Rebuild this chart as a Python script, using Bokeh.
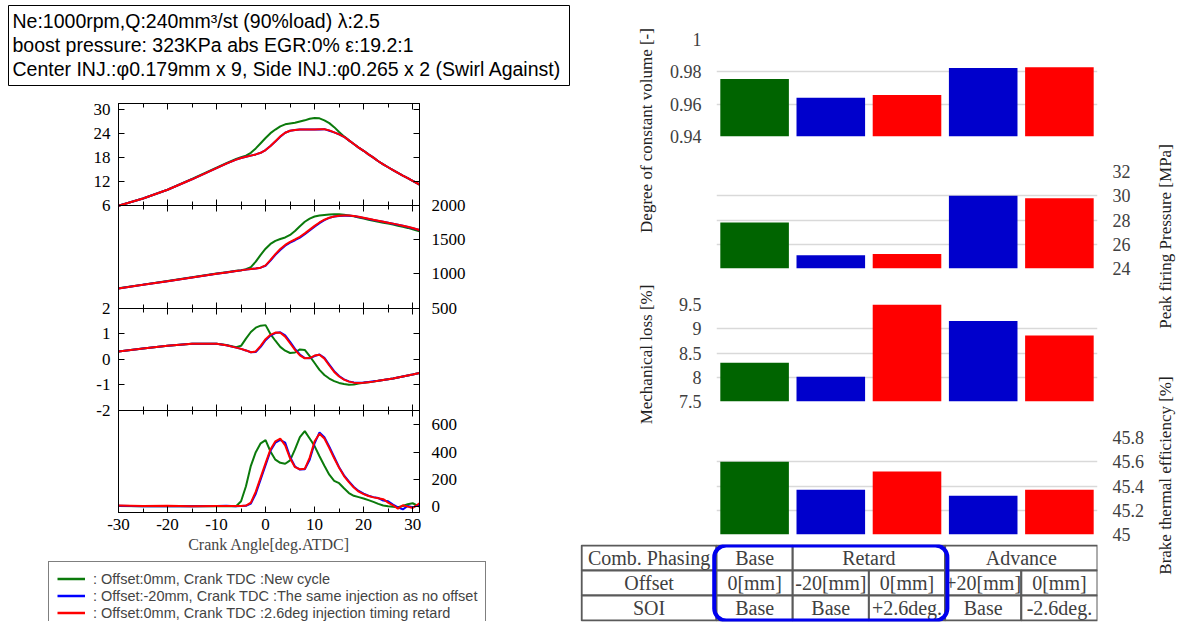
import math
from bokeh.plotting import figure
from bokeh.layouts import column, row
from bokeh.models import (Range1d, LinearAxis, FixedTicker, SingleIntervalTicker,
                          Label, Legend, LegendItem, BoxAnnotation, Grid)
from bokeh.embed import file_html
from bokeh.resources import INLINE
from bokeh.core.properties import value

# ====================== DATA ======================
header_lines = [
    "Ne:1000rpm,Q:240mm\u00b3/st (90%load) \u03bb:2.5",
    "boost pressure: 323KPa abs EGR:0% \u03b5:19.2:1",
    "Center INJ.:\u03c60.179mm x 9, Side INJ.:\u03c60.265 x 2 (Swirl Against)",
]
legend_labels = [
    ": Offset:0mm, Crank TDC :New cycle",
    ": Offset:-20mm, Crank TDC :The same injection as no offset",
    ": Offset:0mm, Crank TDC :2.6deg injection timing retard",
]

crank_angle = [-30, -25, -20, -15, -10, -8, -6, -5, -4, -3, -2, -1,
               0, 1, 2, 3, 4, 5, 6, 7, 8, 9, 10, 11, 12, 13, 14, 15, 16, 17, 18, 19, 20,
               21, 22, 23, 24, 25, 26, 27, 28, 29, 30, 31.4]

press_green = [6.0, 7.8, 10.0, 12.7, 15.5, 16.6, 17.7, 18.1, 18.5, 19.2, 20.3, 21.6,
               22.9, 24.1, 25.0, 25.8, 26.3, 26.5, 26.7, 27.0, 27.3, 27.7, 27.9, 27.8, 27.3,
               26.6, 25.6, 24.4, 23.3, 22.3, 21.4, 20.5, 19.7, 18.8, 18.0, 17.1, 16.3, 15.6,
               14.9, 14.2, 13.5, 12.9, 12.2, 11.3]
press_blue = [6.0, 7.8, 10.0, 12.6, 15.4, 16.5, 17.5, 17.9, 18.2, 18.5, 18.8, 19.2,
              19.9, 20.9, 22.0, 23.2, 24.2, 24.7, 24.9, 25.0, 25.0, 25.0, 25.0, 25.0, 25.1,
              24.7, 24.3, 23.8, 23.2, 22.3, 21.4, 20.5, 19.7, 18.8, 18.0, 17.1, 16.3, 15.6,
              14.9, 14.2, 13.5, 12.9, 12.2, 11.3]
press_red = [6.0, 7.8, 10.0, 12.6, 15.4, 16.5, 17.5, 17.9, 18.2, 18.5, 18.8, 19.2,
             19.9, 20.9, 22.1, 23.3, 24.2, 24.7, 24.9, 25.0, 25.0, 25.0, 25.0, 25.1, 25.1,
             24.8, 24.3, 23.8, 23.2, 22.3, 21.4, 20.5, 19.7, 18.8, 18.0, 17.1, 16.3, 15.6,
             14.9, 14.2, 13.5, 12.9, 12.2, 11.3]

temp_green = [790, 843, 897, 950, 1005, 1025, 1045, 1055, 1068, 1100, 1180, 1280,
              1370, 1440, 1485, 1512, 1535, 1572, 1630, 1700, 1765, 1812, 1842, 1858, 1866,
              1872, 1875, 1874, 1868, 1858, 1845, 1828, 1812, 1796, 1781, 1766, 1752, 1738,
              1723, 1708, 1692, 1675, 1655, 1625]
temp_blue = [785, 840, 894, 948, 1002, 1022, 1042, 1052, 1063, 1072, 1080, 1092,
             1120, 1195, 1280, 1352, 1413, 1458, 1494, 1533, 1583, 1638, 1693, 1745, 1790,
             1822, 1841, 1850, 1853, 1853, 1848, 1836, 1822, 1807, 1792, 1778, 1764, 1750,
             1736, 1721, 1706, 1689, 1671, 1643]
temp_red = [785, 840, 894, 948, 1002, 1022, 1042, 1052, 1063, 1072, 1080, 1092,
            1125, 1205, 1290, 1365, 1425, 1470, 1505, 1545, 1595, 1650, 1705, 1755, 1795,
            1825, 1843, 1852, 1856, 1856, 1850, 1838, 1824, 1809, 1794, 1780, 1766, 1752,
            1738, 1723, 1708, 1691, 1673, 1645]

dpdth_green = [0.30, 0.42, 0.52, 0.60, 0.60, 0.55, 0.47, 0.52, 0.80, 1.06, 1.23, 1.31,
               1.33, 0.98, 0.72, 0.48, 0.33, 0.24, 0.26, 0.38, 0.36, 0.12, -0.15, -0.42, -0.62,
               -0.76, -0.86, -0.93, -0.97, -1.00, -0.99, -0.95, -0.92, -0.90, -0.88, -0.85,
               -0.82, -0.79, -0.76, -0.72, -0.68, -0.64, -0.60, -0.54]
dpdth_blue = [0.30, 0.42, 0.52, 0.60, 0.60, 0.54, 0.45, 0.40, 0.34, 0.27, 0.28, 0.48,
              0.74, 0.92, 1.02, 1.05, 0.93, 0.68, 0.40, 0.18, 0.04, 0.03, 0.12, 0.18, 0.05,
              -0.21, -0.47, -0.66, -0.79, -0.87, -0.91, -0.92, -0.91, -0.89, -0.87, -0.85,
              -0.82, -0.79, -0.76, -0.72, -0.68, -0.64, -0.60, -0.54]
dpdth_red = [0.30, 0.42, 0.52, 0.60, 0.60, 0.54, 0.45, 0.40, 0.34, 0.27, 0.30, 0.52,
             0.78, 0.95, 1.04, 1.03, 0.88, 0.62, 0.36, 0.15, 0.03, 0.04, 0.14, 0.17, 0.02,
             -0.25, -0.50, -0.68, -0.80, -0.88, -0.92, -0.93, -0.92, -0.90, -0.88, -0.85,
             -0.82, -0.79, -0.76, -0.72, -0.68, -0.64, -0.60, -0.54]

ahrr_green = [5, 3, 5, 2, 3, 4, 3, 40, 150, 300, 400, 465,
              488, 405, 345, 322, 315, 340, 420, 510, 555, 500, 445, 370, 300,
              235, 190, 172, 135, 100, 80, 70, 60, 48, 35, 20, 8, 3, 0, -5, 5, 18, 25, 0]
ahrr_blue = [6, 3, 5, 2, 4, 6, 3, 4, 6, 22, 95, 200,
             305, 410, 470, 490, 470, 365, 295, 272, 275, 345, 465, 545, 510,
             440, 365, 290, 230, 185, 145, 115, 95, 80, 70, 63, 45, 40, 15, -5, -20, 5, -5, 15]
ahrr_red = [8, 4, 6, 3, 5, 4, 4, 5, 8, 30, 110, 215,
            320, 420, 480, 500, 450, 355, 290, 275, 278, 360, 480, 535, 500,
            430, 355, 285, 225, 180, 140, 110, 92, 78, 68, 62, 55, 30, 10, -15, 10, 0, -10, 25]

press_ticks = [6, 12, 18, 24, 30]
temp_ticks = [500, 1000, 1500, 2000]
dpdth_ticks = [-2, -1, 0, 1, 2]
ahrr_ticks = [0, 200, 400, 600]
angle_tick_labels = {-30: "-30", -20: "-20", -10: "-10", 0: "0", 10: "10", 20: "20", 30: "30"}

case_names = ["Base 0mm", "Retard -20mm", "Retard +2.6deg", "Advance +20mm", "Advance -2.6deg"]
dcv = [0.9755, 0.9639, 0.9656, 0.9823, 0.9829]
pfp = [27.8, 25.1, 25.2, 30.0, 29.8]
mech_loss = [8.30, 8.01, 9.51, 9.16, 8.86]
bte = [45.60, 45.37, 45.52, 45.32, 45.37]

dcv_ticks = [0.94, 0.96, 0.98, 1.0]
dcv_tick_labels = ["0.94", "0.96", "0.98", "1"]
pfp_ticks = [24, 26, 28, 30, 32]
pfp_tick_labels = ["24", "26", "28", "30", "32"]
mech_ticks = [7.5, 8.0, 8.5, 9.0, 9.5]
mech_tick_labels = ["7.5", "8", "8.5", "9", "9.5"]
bte_ticks = [45.0, 45.2, 45.4, 45.6, 45.8]
bte_tick_labels = ["45", "45.2", "45.4", "45.6", "45.8"]

table_row_headers = ["Comb. Phasing", "Offset", "SOI"]
phasing_groups = ["Base", "Retard", "Advance"]
phasing_group_sizes = [1, 2, 2]
offset_labels = ["0[mm]", "-20[mm]", "0[mm]", "+20[mm]", "0[mm]"]
soi_labels = ["Base", "Base", "+2.6deg.", "Base", "-2.6deg."]
highlighted_groups = ["Base", "Retard"]

# ====================== STYLE ======================
SERIF = "Liberation Serif"
SANS = "Liberation Sans"
LINE_COLORS = ["#0b7a0b", "#0000ff", "#ff0000"]
BAR_COLORS = ["#006400", "#0000cc", "#ff0000", "#0000cc", "#ff0000"]
GRAY_TXT = "#404040"


def base_fig(fw, fh, xr, yr, l, r, t, b):
    f = figure(frame_width=fw, frame_height=fh, x_range=xr, y_range=yr,
               min_border_left=l, min_border_right=r, min_border_top=t, min_border_bottom=b,
               x_axis_type=None, y_axis_type=None, output_backend="svg",
               toolbar_location=None)
    f.outline_line_color = None
    f.border_fill_color = "white"
    f.background_fill_color = "white"
    return f


# ---------- header text box ----------
tfig = base_fig(561, 80, Range1d(0, 561), Range1d(80, 0), 8, 6, 5, 3)
tfig.outline_line_color = "black"
tfig.outline_line_width = 1
for i, line in enumerate(header_lines):
    tfig.add_layout(Label(x=4, y=15 + 24 * i, text=line, text_font=SANS,
                          text_font_size="19.5px", text_baseline="middle", text_color="black"))

# ---------- stacked line panels ----------
X0, X1 = -30.0, 31.4
LFW, LFH = 301, 409
FRAME_L = 118
PPU = LFW / (X1 - X0)
lfig = base_fig(LFW, LFH, Range1d(X0, X1), Range1d(0, 4), FRAME_L, 156, 15, 45)
lfig.outline_line_color = "black"

panels = {"press": (6.0, 31.5, 3), "temp": (500.0, 2000.0, 2),
          "dpdth": (-2.0, 2.0, 1), "ahrr": (-43.0, 708.0, 0)}
extra = {}
for name, (lo, hi, k) in panels.items():
    span = hi - lo
    extra[name] = Range1d(lo - k * span, hi + (3 - k) * span)
lfig.extra_y_ranges = extra


def pos(v, name):
    lo, hi, k = panels[name]
    return round(k + (v - lo) / (hi - lo), 6)


series = [
    ("press", [press_green, press_blue, press_red]),
    ("temp", [temp_green, temp_blue, temp_red]),
    ("dpdth", [dpdth_green, dpdth_blue, dpdth_red]),
    ("ahrr", [ahrr_green, ahrr_blue, ahrr_red]),
]
for name, ys in series:
    for y, c in zip(ys, LINE_COLORS):
        lfig.line(crank_angle, y, y_range_name=name, line_color=c, line_width=2)


def style_ticks(ax, size, color="black"):
    ax.major_label_text_font = SERIF
    ax.major_label_text_font_size = size
    ax.major_label_text_color = color


# left axis (pressure + dp/dtheta labels)
lticks, llabels = [], {}
for v in press_ticks:
    p = pos(v, "press"); lticks.append(p); llabels[p] = str(v)
for v in dpdth_ticks:
    p = pos(v, "dpdth"); lticks.append(p); llabels[p] = str(v)
yl = LinearAxis(ticker=FixedTicker(ticks=lticks), major_label_overrides=llabels,
                major_tick_in=6, major_tick_out=0, minor_tick_in=0, minor_tick_out=0,
                major_label_standoff=8)
style_ticks(yl, "17px")
lfig.add_layout(yl, "left")

# right axis (temperature + AHRR labels)
rticks, rlabels = [], {}
for v in temp_ticks:
    p = pos(v, "temp"); rticks.append(p); rlabels[p] = str(v)
for v in ahrr_ticks:
    p = pos(v, "ahrr"); rticks.append(p); rlabels[p] = str(v)
yr = LinearAxis(ticker=FixedTicker(ticks=rticks), major_label_overrides=rlabels,
                major_tick_in=6, major_tick_out=0, minor_tick_in=0, minor_tick_out=0,
                major_label_standoff=12)
style_ticks(yr, "17px")
lfig.add_layout(yr, "right")

# mirrored (unlabelled) ticks on the right edge for pressure and dp/dtheta
mticks = [pos(v, "press") for v in press_ticks[1:]] + [pos(v, "dpdth") for v in dpdth_ticks[1:-1]]
ym = LinearAxis(ticker=FixedTicker(ticks=mticks), fixed_location=X1, major_tick_in=6,
                major_tick_out=0, minor_tick_in=0, minor_tick_out=0,
                major_label_text_color=None, major_label_standoff=0)
lfig.add_layout(ym, "right")

xb = LinearAxis(ticker=SingleIntervalTicker(interval=10, num_minor_ticks=2),
                major_label_overrides=angle_tick_labels,
                major_tick_in=6, major_tick_out=0, minor_tick_in=4, minor_tick_out=0,
                major_label_standoff=6,
                axis_label="Crank Angle[deg.ATDC]", axis_label_text_font=SERIF,
                axis_label_text_font_size="16px", axis_label_text_font_style="normal",
                axis_label_standoff=3)
style_ticks(xb, "17px")
lfig.add_layout(xb, "below")
xt = LinearAxis(ticker=SingleIntervalTicker(interval=10, num_minor_ticks=2),
                major_tick_in=6, major_tick_out=0, minor_tick_in=4, minor_tick_out=0,
                major_label_standoff=0, major_label_text_color=None)
lfig.add_layout(xt, "above")
for k in (1, 2, 3):
    xi = LinearAxis(ticker=SingleIntervalTicker(interval=10, num_minor_ticks=2),
                    fixed_location=k, major_tick_in=6, major_tick_out=6,
                    minor_tick_in=4, minor_tick_out=4, major_label_standoff=0,
                    major_label_text_color=None)
    lfig.add_layout(xi, "below")


def xdata(page_x):
    return X0 + (page_x - FRAME_L) / PPU


for txt, px, yc in [("In-cyl Press.[MPa]", 76, 3.5), ("In-cyl Temp.[K]", 484, 2.5),
                    ("dp/d\u03b8[MPa/deg]", 77, 1.5), ("AHRR[J/deg.]", 484, 0.5)]:
    lfig.add_layout(Label(x=xdata(px), y=yc, text=txt, angle=math.pi / 2,
                          text_align="center", text_baseline="middle",
                          text_font=SERIF, text_font_size="16px", text_color="black"))

# ---------- legend box ----------
gfig = base_fig(527, 60, Range1d(0, 1), Range1d(0, 1), 48, 0, 4, 0)
grs = [gfig.line(x=[5, 6], y=[5, 6], line_color=c, line_width=2.5) for c in LINE_COLORS]
leg = Legend(items=[LegendItem(label=t, renderers=[r]) for t, r in zip(legend_labels, grs)],
             location="top_left", margin=0, padding=8, spacing=0,
             glyph_width=28, glyph_height=17, label_height=17, label_standoff=8,
             label_text_font=SANS, label_text_font_size="14.5px",
             border_line_color="black", border_line_width=1, background_fill_alpha=1.0)
gfig.add_layout(leg)

left_col = column(row(tfig), lfig, row(gfig))

# ---------- bar panels ----------
BFW, BFH = 381, 97
xs = [i + 0.5 for i in range(len(case_names))]


def bar_fig(vals, ticks, labels, lo, hi, side, top_b, bot_b):
    f = base_fig(BFW, BFH, Range1d(0, len(case_names)), Range1d(lo, hi), 56, 53, top_b, bot_b)
    g = Grid(dimension=1, ticker=FixedTicker(ticks=ticks), grid_line_color="#d9d9d9",
             grid_line_width=1.5)
    f.add_layout(g)
    f.vbar(x=xs, top=vals, bottom=lo, width=0.9, fill_color=BAR_COLORS, line_color=None)
    ax = LinearAxis(ticker=FixedTicker(ticks=ticks),
                    major_label_overrides={t: s for t, s in zip(ticks, labels)},
                    major_tick_in=0, major_tick_out=0, axis_line_color=None,
                    major_label_standoff=15)
    style_ticks(ax, "18px", GRAY_TXT)
    f.add_layout(ax, side)
    return f


b1 = bar_fig(dcv, dcv_ticks, dcv_tick_labels, 0.94, 1.0, "left", 39, 17)
b2 = bar_fig(pfp, pfp_ticks, pfp_tick_labels, 24, 32, "right", 18, 18)
b3 = bar_fig(mech_loss, mech_ticks, mech_tick_labels, 7.5, 9.5, "left", 18, 18)
b4 = bar_fig(bte, bte_ticks, bte_tick_labels, 45.0, 45.8, "right", 18, 10)
pcol = column(b1, b2, b3, b4)

gutL = base_fig(85, 544, Range1d(0, 85), Range1d(544, 0), 0, 0, 0, 0)
for txt, yc in [("Degree of constant volume [-]", 130), ("Mechanical loss [%]", 354)]:
    gutL.add_layout(Label(x=71, y=yc, text=txt, angle=math.pi / 2, text_align="center",
                          text_baseline="middle", text_font=SERIF, text_font_size="17px",
                          text_color="#222222"))

# ---------- table ----------
TFW = 517
TBL_X0 = len(case_names) - TFW / (BFW / len(case_names))
tbl = base_fig(TFW, 77, Range1d(TBL_X0, len(case_names)), Range1d(3.04, -0.04), 5, 53, 0, 2)
cl, cr, ct, ctext = [], [], [], []
for r_i, h in enumerate(table_row_headers):
    cl.append(TBL_X0 + 0.015); cr.append(0); ct.append(r_i); ctext.append(h)
start = 0
for g, n in zip(phasing_groups, phasing_group_sizes):
    cl.append(start); cr.append(start + n); ct.append(0); ctext.append(g); start += n
for i, t in enumerate(offset_labels):
    cl.append(i); cr.append(i + 1); ct.append(1); ctext.append(t)
for i, t in enumerate(soi_labels):
    cl.append(i); cr.append(i + 1); ct.append(2); ctext.append(t)
tbl.quad(left=cl, right=cr, top=ct, bottom=[t + 1 for t in ct], fill_color="white",
         line_color="#5a5a5a", line_width=2)
tbl.text(x=[(a + b) / 2 for a, b in zip(cl, cr)], y=[t + 0.5 for t in ct], text=ctext,
         text_align="center", text_baseline="middle", text_font=value(SERIF),
         text_font_size=value("20px"), text_color=GRAY_TXT)
hl_end = sum(n for g, n in zip(phasing_groups, phasing_group_sizes) if g in highlighted_groups)
tbl.add_layout(BoxAnnotation(left=-0.03, right=hl_end + 0.03, top=0.0, bottom=3.0,
                             fill_alpha=0, line_color="#0000ee", line_alpha=1.0,
                             line_width=4, border_radius=12))

right_inner = column(row(gutL, pcol), tbl)

gutR = base_fig(30, 623, Range1d(0, 30), Range1d(623, 0), 0, 0, 0, 0)
for txt, yc in [("Peak firing Pressure [MPa]", 236), ("Brake thermal efficiency [%]", 475)]:
    gutR.add_layout(Label(x=15, y=yc, text=txt, angle=math.pi / 2, text_align="center",
                          text_baseline="middle", text_font=SERIF, text_font_size="17px",
                          text_color="#222222"))

layout = row(left_col, right_inner, gutR)

open("out.html", "w").write(file_html(layout, INLINE))
